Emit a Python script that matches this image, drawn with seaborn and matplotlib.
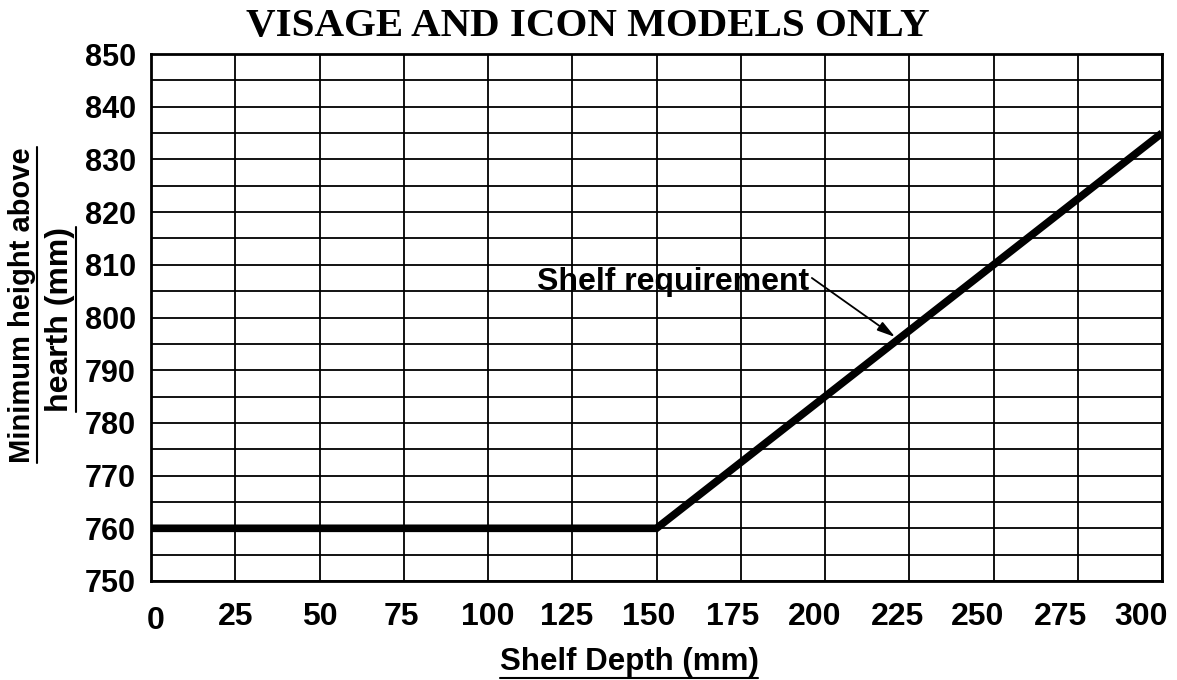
import numpy as np
import seaborn as sns
import matplotlib.pyplot as plt
import matplotlib.ticker as ticker
from matplotlib.lines import Line2D
from matplotlib.transforms import ScaledTranslation

# --- data ---
shelf_depth = [0, 150, 300]
min_height = [760, 760, 835]
x_ticks = list(range(0, 301, 25))
y_ticks = list(range(750, 851, 10))

sns.set_theme(style="white")
plt.rcParams['font.family'] = ['Liberation Sans', 'DejaVu Sans']
plt.rcParams['font.weight'] = 'bold'
plt.rcParams['text.color'] = 'black'

W, H = 1177, 680
fig = plt.figure(figsize=(W / 100, H / 100), dpi=100)
fig.patch.set_facecolor('white')
ax = fig.add_axes([151 / W, 1 - 581 / H, 1011 / W, 527 / H])

sns.lineplot(x=shelf_depth, y=min_height, color='black', lw=5.5, ax=ax,
             solid_capstyle='butt', solid_joinstyle='miter')

ax.set_xlim(0, 300)
ax.set_ylim(750, 850)
ax.set_xticks(x_ticks)
ax.set_yticks(y_ticks)
ax.yaxis.set_minor_locator(ticker.MultipleLocator(5))
ax.grid(which='both', color='black', lw=1.3)
ax.set_axisbelow(True)
for s in ax.spines.values():
    s.set_color('black')
    s.set_linewidth(2)
ax.tick_params(axis='both', which='both', length=0, colors='black')
ax.tick_params(axis='x', pad=15, labelsize=23)
ax.tick_params(axis='y', pad=11, labelsize=22)
for lbl in ax.get_xticklabels() + ax.get_yticklabels():
    lbl.set_fontweight('bold')
ax.set_xlabel('')
ax.set_ylabel('')

# annotation
ax.text(114.5, 805.2, 'Shelf requirement', fontsize=23, fontweight='bold',
        ha='left', va='baseline')
ax.annotate('', xy=(220.8, 796.3), xytext=(196.1, 807.5),
            arrowprops=dict(arrowstyle='-|>,head_length=0.9,head_width=0.25',
                            mutation_scale=12, lw=1.3, color='black',
                            shrinkA=0, shrinkB=0))

# title and axis labels
fig.text(0.499, 1 - 36 / H, 'VISAGE AND ICON MODELS ONLY', ha='center', va='baseline',
         fontsize=29.5, fontweight='bold', family=['Liberation Serif', 'DejaVu Serif'])
xlab = fig.text(629 / W, 10 / H, 'Shelf Depth (mm)', ha='center', va='baseline',
                fontsize=22.5, fontweight='bold')
ylab1 = fig.text(22 / W, 1 - 305 / H, 'Minimum height above', rotation=90,
                 ha='center', va='center', fontsize=21, fontweight='bold')
ylab2 = fig.text(60 / W, 1 - 319 / H, 'hearth (mm)', rotation=90,
                 ha='center', va='center', fontsize=23, fontweight='bold')

# underline the labels
fig.canvas.draw()
r = fig.canvas.get_renderer()
bb = xlab.get_window_extent(r)
fig.add_artist(Line2D([bb.x0 / W, bb.x1 / W], [(bb.y0 - 1) / H] * 2,
                      color='black', lw=1.5))
for t in (ylab1, ylab2):
    bb = t.get_window_extent(r)
    fig.add_artist(Line2D([(bb.x1 + 1) / W] * 2, [bb.y0 / H, bb.y1 / H],
                          color='black', lw=1.5))

# x tick labels in the original drift a little left of their gridlines
shift_px = [(5, -4), (0, 0), (0, 0), (-2, 0), (0, 0), (-6, 0), (-8, 0),
            (-8, 0), (-10, 0), (-12, 0), (-16, 0), (-17, 0), (-21, 0)]
for tk, (dx, dy) in zip(ax.xaxis.get_major_ticks(), shift_px):
    tk.label1.set_transform(tk.label1.get_transform() +
                            ScaledTranslation(dx / 100, dy / 100, fig.dpi_scale_trans))

fig.savefig('out.png', dpi=100)
